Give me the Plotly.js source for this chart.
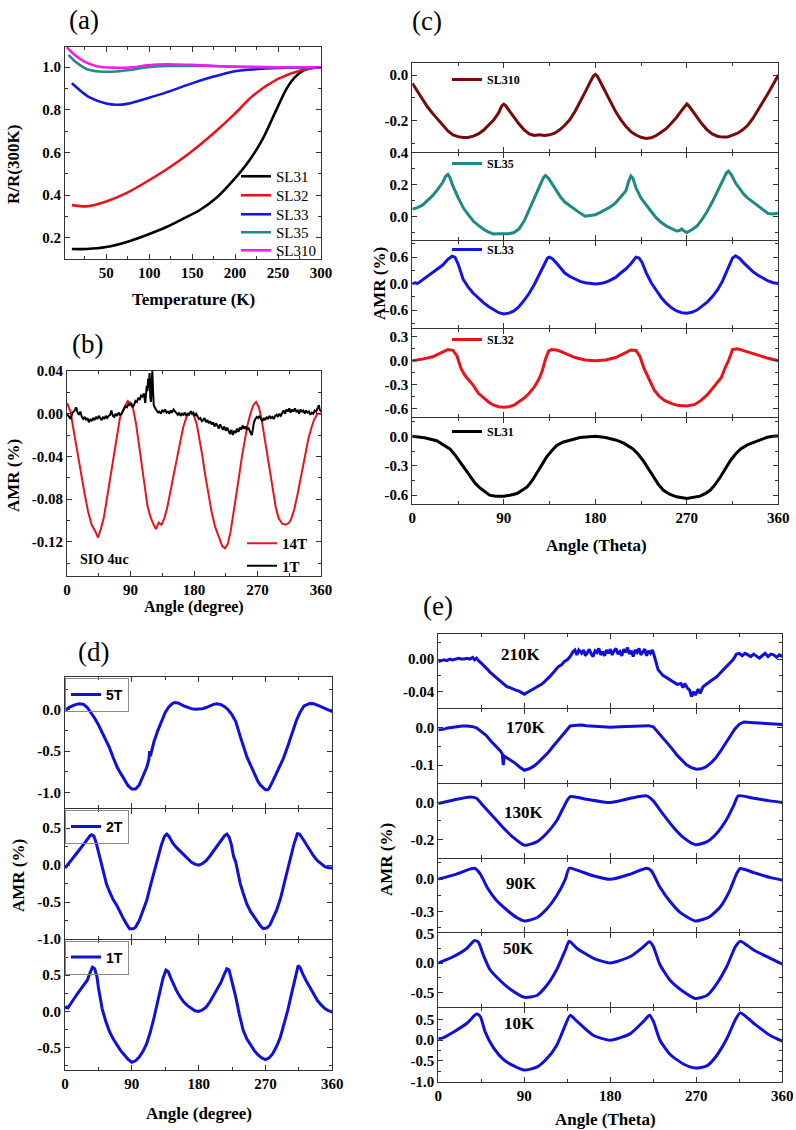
<!DOCTYPE html>
<html><head><meta charset="utf-8">
<script src="https://cdn.plot.ly/plotly-3.0.1.min.js"></script>
<style>html,body{margin:0;padding:0;background:#fff}#chart{width:796px;height:1130px}</style>
</head><body><div id="chart"></div>
<script>
// ---------------- Panel (a): R/R(300K) vs Temperature ----------------
const tSL31 = [10,27,50,74,98,120,140,159,179,198,217,233,248,260,270,280,290,300];
const rSL31 = [0.147,0.147,0.156,0.18,0.214,0.25,0.29,0.33,0.39,0.47,0.565,0.67,0.80,0.90,0.955,0.985,0.998,1.0];
const tSL32 = [10,27,50,74,98,120,148,175,198,221,250,276,300];
const rSL32 = [0.353,0.347,0.37,0.41,0.465,0.52,0.6,0.69,0.775,0.867,0.945,0.985,1.0];
const tSL33 = [10,20,30,50,62,74,98,120,148,175,198,221,250,300];
const rSL33 = [0.925,0.89,0.86,0.83,0.824,0.828,0.855,0.882,0.922,0.956,0.98,0.99,0.997,1.0];
const tSL35 = [6,15,27,42,62,81,98,120,148,175,198,250,300];
const rSL35 = [1.058,1.023,0.992,0.98,0.98,0.989,1.0,1.006,1.006,1.006,1.003,1.0,1.0];
const tSL310 = [4,12,24,39,58,81,98,120,148,175,198,250,300];
const rSL310 = [1.094,1.062,1.028,1.005,0.998,1.0,1.009,1.014,1.011,1.006,1.002,1.0,1.0];
const aNames = ['SL31','SL32','SL33','SL35','SL310'];
const tempTicks = [50,100,150,200,250,300];
const rTicks = [0.2,0.4,0.6,0.8,1.0];
const rTickText = ['0.2','0.4','0.6','0.8','1.0'];

// ---------------- Panel (b): SIO 4uc AMR ----------------
const b14T_x = [0,5,10,15,20,25,30,35,40,44,48,52,56,60,65,70,75,80,86,90,94,98,102,106,110,114,118,122,126,130,134,138,142,146,150,155,160,165,170,176,180,184,188,192,196,200,205,210,215,220,224,228,232,236,240,244,248,252,256,260,264,268,272,276,280,284,288,292,296,300,305,310,315,318,322,326,330,334,338,342,346,350,355,360];
const b14T_y = [0.010,0.002,-0.018,-0.038,-0.058,-0.075,-0.092,-0.104,-0.110,-0.116,-0.108,-0.098,-0.082,-0.066,-0.045,-0.022,-0.004,0.004,0.012,0.010,0.004,-0.010,-0.030,-0.050,-0.070,-0.086,-0.096,-0.103,-0.108,-0.102,-0.104,-0.098,-0.088,-0.074,-0.060,-0.044,-0.028,-0.012,-0.002,0.002,-0.002,-0.010,-0.024,-0.040,-0.058,-0.074,-0.092,-0.106,-0.116,-0.124,-0.126,-0.122,-0.110,-0.094,-0.076,-0.058,-0.040,-0.024,-0.010,0.000,0.008,0.011,0.006,-0.006,-0.022,-0.040,-0.058,-0.074,-0.088,-0.098,-0.103,-0.104,-0.102,-0.098,-0.090,-0.078,-0.064,-0.050,-0.036,-0.024,-0.014,-0.006,0.000,0.000];
const b1T_x = [0,3,5,8,11,13,15,17,19,21,23,25,27,29,31,33,35,37,39,41,43,45,47,49,51,53,55,57,59,61,63,65,67,69,71,73,75,77,79,81,83,85,87,89,91,93,95,97,99,101,103,105,107,109,110,111,112,113,114,115,116,117,118,119,120,121,122,123,125,127,129,131,133,135,137,139,141,143,145,147,149,151,153,155,157,159,161,163,165,167,169,171,173,175,177,179,181,183,185,187,189,191,193,195,197,199,201,203,205,207,209,211,213,215,217,219,221,223,225,227,229,231,233,235,237,239,241,243,245,247,249,251,253,255,257,259,261,262,263,265,267,269,271,273,275,277,279,281,283,285,287,289,291,293,295,297,299,301,303,305,307,309,311,313,315,317,319,321,323,325,327,329,331,333,335,337,339,341,343,345,347,349,351,353,355,357,358,360];
const b1T_y = [0.000,-0.003,-0.005,0.001,0.003,0.006,0.001,-0.001,0.002,-0.003,-0.005,-0.003,-0.006,-0.004,-0.008,-0.005,-0.007,-0.004,-0.006,-0.003,-0.005,-0.002,-0.004,-0.006,-0.003,-0.005,-0.002,-0.004,-0.002,-0.001,0.003,-0.002,-0.003,0.000,-0.002,0.001,-0.001,0.000,0.002,0.004,0.007,0.006,0.009,0.008,0.010,0.006,0.008,0.012,0.011,0.015,0.013,0.017,0.016,0.019,0.014,0.010,0.018,0.026,0.021,0.033,0.024,0.038,0.016,0.011,0.030,0.040,0.020,0.008,0.005,0.003,0.001,0.002,0.000,0.003,0.002,0.004,0.001,0.002,0.000,0.003,0.001,0.004,0.002,0.000,-0.001,0.001,-0.002,0.000,-0.001,0.001,-0.002,0.000,-0.001,0.002,0.000,0.001,-0.002,0.000,-0.003,-0.005,-0.004,-0.007,-0.006,-0.004,-0.008,-0.006,-0.009,-0.007,-0.010,-0.008,-0.012,-0.009,-0.011,-0.014,-0.010,-0.013,-0.015,-0.012,-0.016,-0.013,-0.017,-0.019,-0.015,-0.020,-0.016,-0.018,-0.014,-0.017,-0.013,-0.015,-0.011,-0.014,-0.012,-0.015,-0.013,-0.017,-0.019,-0.020,-0.014,-0.008,-0.005,-0.003,-0.004,-0.002,-0.005,-0.007,-0.004,-0.006,-0.003,-0.005,-0.002,-0.004,-0.003,-0.005,-0.002,-0.001,-0.003,0.000,-0.002,0.001,0.003,0.000,0.004,0.002,0.005,0.001,0.004,0.002,0.005,0.002,0.003,0.000,0.004,0.002,0.003,0.000,0.003,0.001,0.002,-0.001,0.001,0.000,0.003,0.002,0.006,0.008,0.004,0.002];
const bNames = ['14T','1T'];
const bTicks = [0.04,0.00,-0.04,-0.08,-0.12];
const bTickText = ['0.04','0.00','-0.04','-0.08','-0.12'];

// ---------------- Panel (c): AMR of superlattices ----------------
const cSL310_x = [0,5,10,15,20,25,30,35,40,45,50,55,60,65,70,75,80,85,88,90,92,96,100,105,110,115,120,125,130,135,140,145,150,155,160,165,170,175,178,180,182,185,190,195,200,205,210,215,220,225,230,235,240,245,250,255,260,265,268,270,272,276,280,285,290,295,300,305,310,315,320,325,330,335,340,345,350,355,360];
const cSL310_y = [-0.036,-0.07,-0.11,-0.14,-0.168,-0.195,-0.22,-0.245,-0.262,-0.27,-0.274,-0.274,-0.268,-0.258,-0.242,-0.22,-0.197,-0.165,-0.135,-0.128,-0.135,-0.16,-0.185,-0.215,-0.24,-0.258,-0.265,-0.262,-0.265,-0.262,-0.255,-0.24,-0.22,-0.195,-0.16,-0.12,-0.075,-0.03,-0.005,0.003,-0.005,-0.03,-0.075,-0.12,-0.16,-0.195,-0.225,-0.248,-0.263,-0.273,-0.278,-0.275,-0.265,-0.25,-0.234,-0.21,-0.185,-0.155,-0.135,-0.127,-0.135,-0.16,-0.185,-0.215,-0.24,-0.258,-0.268,-0.272,-0.272,-0.265,-0.255,-0.24,-0.22,-0.19,-0.155,-0.12,-0.08,-0.04,0.0];
const cSL35_x = [0,5,10,15,20,25,30,33,35,37,40,45,50,55,60,65,70,75,80,85,90,95,100,105,110,115,120,125,129,131,134,138,142,146,150,155,160,165,170,175,180,185,190,195,200,205,210,213,215,217,220,225,230,235,240,245,250,255,260,263,265,267,270,275,280,285,290,295,300,305,309,311,314,318,322,326,330,335,340,345,350,355,360];
const cSL35_y = [0.045,0.055,0.07,0.1,0.13,0.17,0.215,0.255,0.265,0.245,0.19,0.12,0.055,0.01,-0.03,-0.058,-0.082,-0.1,-0.112,-0.11,-0.108,-0.11,-0.103,-0.08,-0.03,0.04,0.12,0.19,0.245,0.258,0.24,0.2,0.16,0.12,0.09,0.065,0.04,0.02,0.0,0.005,0.01,0.025,0.04,0.06,0.085,0.12,0.16,0.225,0.255,0.24,0.18,0.115,0.07,0.03,-0.01,-0.04,-0.062,-0.08,-0.093,-0.09,-0.08,-0.092,-0.103,-0.085,-0.062,-0.02,0.03,0.09,0.155,0.22,0.275,0.285,0.26,0.21,0.175,0.14,0.115,0.09,0.07,0.04,0.018,0.015,0.02];
const cSL33_x = [0,3,5,10,15,20,25,30,35,39,42,45,50,55,60,65,70,75,80,85,90,95,100,105,110,115,120,125,130,133,135,138,142,146,150,155,160,165,170,175,180,185,190,195,200,205,210,215,218,220,223,226,230,235,240,245,250,255,260,265,270,275,280,285,290,295,300,305,310,315,318,322,326,330,335,340,345,350,355,360];
const cSL33_y = [0.0,0.02,0.0,0.08,0.17,0.26,0.34,0.42,0.55,0.62,0.6,0.45,0.1,-0.08,-0.22,-0.33,-0.43,-0.52,-0.6,-0.66,-0.69,-0.67,-0.62,-0.52,-0.38,-0.22,-0.02,0.2,0.45,0.58,0.6,0.56,0.46,0.34,0.24,0.16,0.1,0.05,0.02,0.0,-0.01,0.0,0.03,0.08,0.14,0.24,0.33,0.45,0.55,0.6,0.58,0.48,0.25,0.02,-0.15,-0.32,-0.45,-0.55,-0.62,-0.66,-0.67,-0.65,-0.6,-0.52,-0.42,-0.3,-0.15,0.05,0.3,0.58,0.63,0.57,0.47,0.37,0.27,0.19,0.12,0.06,0.02,0.0];
const cSL32_x = [0,10,20,25,30,35,40,44,48,52,56,60,65,70,75,80,85,90,95,100,105,110,115,120,125,128,131,134,137,142,147,152,160,170,180,190,200,208,215,220,224,228,233,238,243,248,255,262,270,278,284,290,294,300,304,308,311,315,320,325,330,340,350,360];
const cSL32_y = [0.0,0.02,0.05,0.08,0.12,0.14,0.13,0.06,-0.1,-0.19,-0.25,-0.31,-0.41,-0.47,-0.52,-0.56,-0.58,-0.585,-0.58,-0.56,-0.52,-0.47,-0.41,-0.33,-0.22,-0.12,0.02,0.12,0.14,0.135,0.11,0.08,0.04,0.01,0.0,0.01,0.04,0.09,0.135,0.13,0.05,-0.1,-0.24,-0.37,-0.45,-0.5,-0.54,-0.565,-0.57,-0.55,-0.5,-0.43,-0.37,-0.28,-0.21,-0.08,0.0,0.14,0.15,0.13,0.11,0.07,0.03,0.0];
const cSL31_x = [0,12,24,30,37,42,47,52,57,62,67,72,76,82,90,96,103,108,113,118,122,127,132,137,142,148,155,165,180,190,200,208,217,222,227,232,237,242,247,253,260,270,283,288,293,298,303,308,313,318,323,330,336,343,349,355,360];
const cSL31_y = [0.0,-0.015,-0.045,-0.08,-0.128,-0.19,-0.263,-0.34,-0.415,-0.48,-0.53,-0.57,-0.6,-0.61,-0.61,-0.6,-0.583,-0.55,-0.516,-0.45,-0.38,-0.3,-0.212,-0.15,-0.094,-0.06,-0.037,-0.012,0.0,-0.012,-0.037,-0.07,-0.128,-0.18,-0.246,-0.33,-0.415,-0.49,-0.55,-0.59,-0.617,-0.634,-0.61,-0.585,-0.55,-0.49,-0.415,-0.33,-0.246,-0.18,-0.128,-0.085,-0.06,-0.03,-0.01,0.0,0.003];
const cNames = ['SL310','SL35','SL33','SL32','SL31'];
const cTicks = [[0.0,-0.2],[0.4,0.2,0.0],[0.6,0.0,-0.6],[0.3,0.0,-0.3,-0.6],[0.0,-0.3,-0.6]];
const cTickText = [['0.0','-0.2'],['0.4','0.2','0.0'],['0.6','0.0','-0.6'],['0.3','0.0','-0.3','-0.6'],['0.0','-0.3','-0.6']];

// ---------------- Panel (d): field dependence ----------------
const d5T_x = [0,5,10,15,20,25,30,35,40,45,50,55,60,65,70,75,80,85,90,95,100,105,110,113,114,115,118,120,125,130,135,140,145,148,152,160,165,170,175,180,185,190,195,200,205,210,215,220,225,230,236,240,245,249,255,260,263,267,270,273,275,280,285,290,294,300,305,308,312,317,322,330,335,340,345,350,355,360];
const d5T_y = [-0.01,0.03,0.05,0.068,0.075,0.068,0.03,-0.03,-0.1,-0.18,-0.27,-0.37,-0.46,-0.58,-0.69,-0.77,-0.85,-0.92,-0.96,-0.96,-0.91,-0.8,-0.7,-0.6,-0.5,-0.56,-0.44,-0.38,-0.25,-0.13,-0.03,0.04,0.08,0.09,0.085,0.05,0.03,0.016,0.008,0.008,0.015,0.03,0.05,0.068,0.075,0.065,0.04,0.0,-0.06,-0.14,-0.32,-0.44,-0.57,-0.65,-0.78,-0.87,-0.91,-0.95,-0.97,-0.97,-0.95,-0.86,-0.76,-0.66,-0.59,-0.44,-0.3,-0.24,-0.12,-0.02,0.05,0.08,0.075,0.06,0.04,0.02,0.0,-0.02];
const d2T_x = [0,5,10,15,20,25,30,34,36,39,42,45,47,50,53,56,60,65,70,75,79,83,87,92,95,100,105,110,115,120,125,130,134,137,140,145,150,155,160,165,170,175,180,185,190,195,200,205,210,215,218,221,224,227,230,236,240,245,250,258,263,267,272,276,280,285,290,294,298,303,308,313,316,320,325,330,335,340,345,350,355,360];
const d2T_y = [-0.04,0.02,0.08,0.15,0.215,0.28,0.35,0.4,0.41,0.39,0.3,0.2,0.1,-0.02,-0.14,-0.26,-0.36,-0.47,-0.55,-0.66,-0.73,-0.8,-0.86,-0.86,-0.84,-0.75,-0.62,-0.48,-0.28,-0.08,0.1,0.28,0.39,0.42,0.39,0.3,0.24,0.19,0.13,0.08,0.04,0.013,0.0,0.02,0.06,0.12,0.19,0.26,0.33,0.4,0.42,0.38,0.28,0.12,0.04,-0.25,-0.38,-0.53,-0.63,-0.75,-0.82,-0.86,-0.85,-0.81,-0.73,-0.61,-0.46,-0.3,-0.14,0.06,0.27,0.425,0.42,0.36,0.28,0.19,0.12,0.06,0.02,-0.02,-0.035,-0.04];
const d1T_x = [0,2,4,10,15,20,25,30,34,37,40,43,45,48,50,55,60,65,70,75,80,85,90,95,100,105,110,115,120,124,128,132,136,139,143,147,150,155,160,165,170,175,180,185,190,195,200,205,210,214,218,221,224,227,230,235,240,245,250,255,260,265,270,275,280,285,290,295,300,305,310,314,317,320,325,330,335,340,345,350,355,360];
const d1T_y = [0.04,0.06,0.05,0.15,0.22,0.29,0.36,0.43,0.54,0.61,0.59,0.48,0.33,0.15,0.04,-0.14,-0.28,-0.38,-0.47,-0.54,-0.6,-0.66,-0.7,-0.68,-0.63,-0.55,-0.445,-0.28,-0.08,0.1,0.29,0.46,0.57,0.55,0.45,0.35,0.29,0.2,0.13,0.08,0.04,0.01,0.0,0.02,0.06,0.13,0.22,0.31,0.4,0.5,0.587,0.57,0.45,0.3,0.197,-0.05,-0.26,-0.38,-0.47,-0.54,-0.6,-0.64,-0.665,-0.64,-0.58,-0.48,-0.355,-0.18,0.014,0.24,0.47,0.633,0.6,0.52,0.42,0.33,0.24,0.15,0.09,0.04,0.01,-0.01];
const dNames = ['5T','2T','1T'];
const dTicks = [[0.0,-0.5,-1.0],[0.5,0.0,-0.5,-1.0],[0.5,0.0,-0.5]];
const dTickText = [['0.0','-0.5','-1.0'],['0.5','0.0','-0.5','-1.0'],['0.5','0.0','-0.5']];

// ---------------- Panel (e): temperature dependence ----------------
const e210_x = [0,3,6,9,12,15,18,21,24,27,30,33,36,38,40,42,45,48,51,54,57,60,63,66,69,72,75,78,81,84,87,90,93,96,99,102,105,108,111,114,117,120,123,126,129,132,135,138,141,143,145,147,150,152,154,156,158,160,162,164,166,168,170,172,174,176,178,180,182,184,186,188,190,192,194,196,198,200,202,204,206,208,210,212,214,216,218,220,222,224,226,228,230,235,240,245,250,254,256,258,261,263,265,267,269,272,274,277,280,285,291,296,302,306,309,312,315,318,321,324,327,330,333,336,339,342,345,348,351,354,357,360];
const e210_y = [-0.003,-0.002,-0.001,-0.002,0.0,-0.001,0.0,0.001,0.0,0.0,0.001,0.0,0.002,-0.001,0.001,-0.002,-0.005,-0.008,-0.012,-0.016,-0.019,-0.023,-0.025,-0.028,-0.031,-0.034,-0.035,-0.037,-0.038,-0.039,-0.041,-0.043,-0.041,-0.039,-0.038,-0.036,-0.034,-0.031,-0.028,-0.025,-0.021,-0.017,-0.013,-0.009,-0.007,-0.003,-0.001,0.003,0.009,0.011,0.005,0.011,0.007,0.011,0.004,0.009,0.012,0.006,0.003,0.010,0.008,0.013,0.005,0.009,0.004,0.011,0.007,0.012,0.005,0.010,0.013,0.006,0.009,0.004,0.012,0.008,0.014,0.006,0.010,0.003,0.011,0.008,0.013,0.005,0.009,0.012,0.004,0.010,0.007,0.011,0.004,-0.006,-0.013,-0.02,-0.024,-0.028,-0.031,-0.030,-0.035,-0.030,-0.036,-0.038,-0.046,-0.040,-0.044,-0.037,-0.042,-0.034,-0.031,-0.027,-0.022,-0.016,-0.009,-0.004,0.0,0.006,0.007,0.004,0.007,0.005,0.003,0.006,0.004,0.001,0.004,0.007,0.003,0.006,0.005,0.002,0.005,0.003];
const e170_x = [0,5,10,15,20,25,30,35,40,45,50,55,60,65,67,68,69,75,80,85,90,95,100,105,110,115,120,125,130,134,138,145,150,155,160,170,180,190,200,210,220,225,230,235,240,245,250,255,260,265,270,275,280,285,290,295,300,305,310,315,320,330,340,350,360];
const e170_y = [-0.005,-0.004,0.0,0.002,0.004,0.005,0.005,0.004,0.0,-0.01,-0.02,-0.035,-0.048,-0.062,-0.07,-0.1,-0.076,-0.085,-0.094,-0.105,-0.114,-0.11,-0.103,-0.092,-0.08,-0.066,-0.05,-0.035,-0.02,-0.007,0.005,0.007,0.008,0.006,0.005,0.003,0.002,0.003,0.004,0.006,0.006,0.003,-0.012,-0.025,-0.04,-0.057,-0.074,-0.088,-0.1,-0.107,-0.111,-0.11,-0.105,-0.095,-0.082,-0.064,-0.045,-0.024,-0.004,0.01,0.016,0.014,0.012,0.011,0.009];
const e130_x = [0,16,33,40,47,58,68,78,90,103,113,124,131,138,155,180,201,218,225,235,246,256,269,281,291,302,309,314,330,347,360];
const e130_y = [-0.005,0.014,0.03,0.023,-0.018,-0.08,-0.137,-0.188,-0.232,-0.214,-0.17,-0.098,-0.027,0.032,0.018,0.0,0.023,0.036,0.009,-0.062,-0.134,-0.188,-0.229,-0.214,-0.17,-0.09,-0.018,0.036,0.023,0.009,0.0];
const e90_x = [0,19,33,38,44,51,61,72,82,90,103,113,124,133,137,145,162,180,201,218,223,232,243,253,269,284,295,305,312,316,330,347,360];
const e90_y = [0.0,0.046,0.092,0.1,0.046,-0.076,-0.2,-0.29,-0.358,-0.39,-0.36,-0.284,-0.153,0.0,0.1,0.083,0.03,-0.003,0.046,0.1,0.076,-0.076,-0.214,-0.31,-0.39,-0.35,-0.26,-0.107,0.046,0.098,0.06,0.015,-0.01];
const e50_x = [0,16,30,38,42,47,54,65,75,90,103,113,124,133,137,145,162,180,201,215,221,225,232,243,257,269,281,291,302,311,316,330,347,360];
const e50_y = [0.0,0.11,0.25,0.38,0.35,0.14,-0.11,-0.3,-0.44,-0.58,-0.55,-0.39,-0.11,0.22,0.37,0.25,0.083,0.0,0.11,0.28,0.36,0.28,-0.03,-0.3,-0.49,-0.6,-0.55,-0.36,-0.055,0.28,0.37,0.22,0.083,-0.02];
const e10_x = [0,4,16,30,40,44,49,58,68,79,90,103,113,124,133,138,145,162,180,201,215,221,225,232,243,257,269,281,291,302,311,316,330,347,360];
const e10_y = [0.04,0.05,0.2,0.41,0.63,0.57,0.2,-0.19,-0.46,-0.62,-0.72,-0.65,-0.46,-0.12,0.37,0.6,0.46,0.12,0.0,0.16,0.46,0.6,0.46,0.0,-0.35,-0.58,-0.67,-0.62,-0.38,0.04,0.5,0.66,0.41,0.12,-0.02];
const eNames = ['210K','170K','130K','90K','50K','10K'];
const eTicks = [[0.0,-0.04],[0.0,-0.1],[0.0,-0.2],[0.0,-0.3],[0.5,0.0,-0.5],[0.5,0.0,-0.5,-1.0]];
const eTickText = [['0.00','-0.04'],['0.0','-0.1'],['0.0','-0.2'],['0.0','-0.3'],['0.5','0.0','-0.5'],['0.5','0.0','-0.5','-1.0']];

const angleTicks = [0,90,180,270,360];
const angleTickText = ['0','90','180','270','360'];

// ---------------- layout helpers ----------------
const W = 796, H = 1130;
const px = v => v / W;
const py = v => 1 - v / H;
const SERIF = 'Liberation Serif, Times New Roman, serif';
const SANS = 'Liberation Sans, Arial, sans-serif';
const AX = '#333';

function axis(d0, d1, range, tv, tt, minorDtick, showLabels, fsize, anchor) {
  return {
    domain: [d0, d1], range: range, anchor: anchor,
    showline: true, linecolor: AX, linewidth: 1, mirror: 'ticks',
    ticks: 'inside', ticklen: 5, tickwidth: 1, tickcolor: AX,
    tickmode: 'array', tickvals: tv, ticktext: tt,
    showticklabels: showLabels,
    tickfont: {family: SERIF, size: fsize, color: '#000', weight: 'bold'},
    minor: {ticks: 'inside', ticklen: 3, tickwidth: 1, tickcolor: AX, tick0: 0, dtick: minorDtick, showgrid: false},
    showgrid: false, zeroline: false, fixedrange: true
  };
}

const layout = {
  width: W, height: H, autosize: false,
  margin: {l: 0, r: 0, t: 0, b: 0},
  paper_bgcolor: '#fff', plot_bgcolor: 'rgba(0,0,0,0)',
  showlegend: true, annotations: []
};
const data = [];
let n = 0;
let nLeg = 0;
function nextLegend() { nLeg += 1; return nLeg === 1 ? 'legend' : 'legend' + nLeg; }
function addSub(xpx, ypx, xr, yr, xtv, xtt, xminor, ytv, ytt, yminor, showX, fsize) {
  n += 1;
  const xs = n === 1 ? 'xaxis' : 'xaxis' + n;
  const ys = n === 1 ? 'yaxis' : 'yaxis' + n;
  const xid = n === 1 ? 'x' : 'x' + n;
  const yid = n === 1 ? 'y' : 'y' + n;
  layout[xs] = axis(px(xpx[0]), px(xpx[1]), xr, xtv, xtt, xminor, showX, fsize, yid);
  layout[ys] = axis(py(ypx[1]), py(ypx[0]), yr, ytv, ytt, yminor, true, fsize, xid);
  return {x: xid, y: yid};
}
function line(ax, xs, ys, color, width, name, legend, smooth) {
  const t = {type: 'scatter', mode: 'lines', x: xs, y: ys, xaxis: ax.x, yaxis: ax.y,
    line: {color: color, width: width}, name: name || '', showlegend: !!legend, hoverinfo: 'skip'};
  if (smooth) { t.line.shape = 'spline'; t.line.smoothing = smooth; }
  if (legend) t.legend = legend;
  data.push(t);
  return t;
}
function legendBox(id, xLeft, yTop, font, extra) {
  layout[id] = Object.assign({x: px(xLeft), y: py(yTop), xanchor: 'left', yanchor: 'top',
    bgcolor: 'rgba(0,0,0,0)', borderwidth: 0, font: font}, extra || {});
}
function ann(text, x, y, opts) {
  layout.annotations.push(Object.assign({text: text, x: px(x), y: py(y), xref: 'paper', yref: 'paper',
    showarrow: false, xanchor: 'center', yanchor: 'middle',
    font: {family: SERIF, size: 17, color: '#000', weight: 'bold'}}, opts || {}));
}

// ---------------- Panel (a) ----------------
const axA = addSub([65, 321], [47, 259], [2, 300], [0.1, 1.095], tempTicks, tempTicks.map(String), 25, rTicks, rTickText, 0.1, true, 15);
const aColors = ['#000000', '#e8141a', '#1414e6', '#248a85', '#f01cf0'];
const aX = [tSL31, tSL32, tSL33, tSL35, tSL310];
const aY = [rSL31, rSL32, rSL33, rSL35, rSL310];
const aLegTop = [160, 179, 198, 216, 234];
aNames.forEach((nm, i) => {
  const lg = nextLegend();
  line(axA, aX[i], aY[i], aColors[i], 2.6, nm, lg, 0.8);
  legendBox(lg, 236, aLegTop[i], {family: SERIF, size: 15, color: '#000'});
});

// ---------------- Panel (b) ----------------
const axB = addSub([67, 321], [371, 576], [0, 360], [-0.152, 0.04], angleTicks, angleTickText, 45, bTicks, bTickText, 0.02, true, 15);
const lgB = nextLegend();
line(axB, b14T_x, b14T_y, '#e8141a', 2, bNames[0], lgB);
line(axB, b1T_x, b1T_y, '#000000', 2, bNames[1], lgB);
legendBox(lgB, 242, 527, {family: SERIF, size: 15, color: '#000', weight: 'bold'}, {tracegroupgap: 0});

// ---------------- Panel (c) ----------------
const cY = [[63, 151.7], [152.7, 240], [241, 327.7], [328.7, 416.7], [417.7, 504]];
const cRanges = [[-0.336, 0.053], [-0.15, 0.402], [-1.0, 0.966], [-0.705, 0.403], [-0.69, 0.19]];
const cMinor = [0.1, 0.1, 0.3, 0.15, 0.15];
const cColors = ['#7a0a0a', '#1f8a85', '#1414e6', '#e8141a', '#000000'];
const cXs = [cSL310_x, cSL35_x, cSL33_x, cSL32_x, cSL31_x];
const cYs = [cSL310_y, cSL35_y, cSL33_y, cSL32_y, cSL31_y];
const cLegTop = [65, 149, 235, 325, 417];
cNames.forEach((nm, i) => {
  const ax = addSub([412.3, 778.3], cY[i], [0, 360], cRanges[i], angleTicks, angleTickText, 45,
    cTicks[i], cTickText[i], cMinor[i], i === 4, 15);
  const lg = nextLegend();
  line(ax, cXs[i], cYs[i], cColors[i], 3, nm, lg);
  legendBox(lg, 447, cLegTop[i], {family: SERIF, size: 12, color: '#000', weight: 'bold'});
});

// ---------------- Panel (d) ----------------
const dY = [[677.3, 808.3], [809.3, 939], [940, 1070]];
const dRanges = [[-1.194, 0.397], [-1.0, 0.755], [-0.807, 0.985]];
const dXs = [d5T_x, d2T_x, d1T_x];
const dYs = [d5T_y, d2T_y, d1T_y];
dNames.forEach((nm, i) => {
  const ax = addSub([65, 332.3], dY[i], [0, 360], dRanges[i], angleTicks, angleTickText, 45,
    dTicks[i], dTickText[i], 0.25, i === 2, 15);
  const lg = nextLegend();
  line(ax, dXs[i], dYs[i], '#1010d8', 3, nm, lg);
  legendBox(lg, 65, dY[i][0] + 0.5, {family: SANS, size: 14, color: '#000', weight: 'bold'},
    {bgcolor: 'rgba(255,255,255,0)', bordercolor: '#8a8a8a', borderwidth: 1});
});

// ---------------- Panel (e) ----------------
const eY = [[634, 708.3], [709.3, 783.3], [784.3, 857.7], [858.7, 932.3], [933.3, 1007.3], [1008.3, 1081.7]];
const eRanges = [[-0.0603, 0.0306], [-0.149, 0.05], [-0.3, 0.099], [-0.495, 0.189], [-0.75, 0.503], [-1.0, 0.77]];
const eMinor = [0.02, 0.05, 0.1, 0.15, 0.25, 0.25];
const eXs = [e210_x, e170_x, e130_x, e90_x, e50_x, e10_x];
const eYs = [e210_y, e170_y, e130_y, e90_y, e50_y, e10_y];
const eSmooth = [0, 0, 0.6, 0.6, 0.6, 0.6];
const eLabPos = [[521, 654], [526, 727], [524, 812], [521, 883], [518, 948], [519, 1023]];
eNames.forEach((nm, i) => {
  const ax = addSub([438.3, 782.3], eY[i], [0, 360], eRanges[i], angleTicks, angleTickText, 45,
    eTicks[i], eTickText[i], eMinor[i], i === 5, 15);
  line(ax, eXs[i], eYs[i], '#1010d8', 3, nm, null, eSmooth[i]);
  ann(nm, eLabPos[i][0], eLabPos[i][1]);
});

// ---------------- text ----------------
const panelFont = {family: SERIF, size: 27, color: '#000'};
ann('(a)', 84, 20, {font: panelFont});
ann('(b)', 87, 344, {font: panelFont});
ann('(c)', 427, 21, {font: panelFont});
ann('(d)', 93, 652, {font: panelFont});
ann('(e)', 438, 606, {font: panelFont});

ann('R/R(300K)', 13, 165, {textangle: -90});
ann('Temperature (K)', 193, 300);
ann('AMR (%)', 13, 476, {textangle: -90});
ann('Angle (degree)', 194, 607, {font: {family: SERIF, size: 16, color: '#000', weight: 'bold'}});
ann('SIO 4uc', 104, 559, {font: {family: SERIF, size: 14, color: '#000', weight: 'bold'}});
ann('AMR (%)', 379, 284, {textangle: -90});
ann('Angle (Theta)', 596, 545);
ann('AMR (%)', 18, 876, {textangle: -90});
ann('Angle (degree)', 199, 1113);
ann('AMR (%)', 386, 860, {textangle: -90});
ann('Angle (Theta)', 605, 1119);

Plotly.newPlot('chart', data, layout, {displayModeBar: false, staticPlot: true});
</script></body></html>
